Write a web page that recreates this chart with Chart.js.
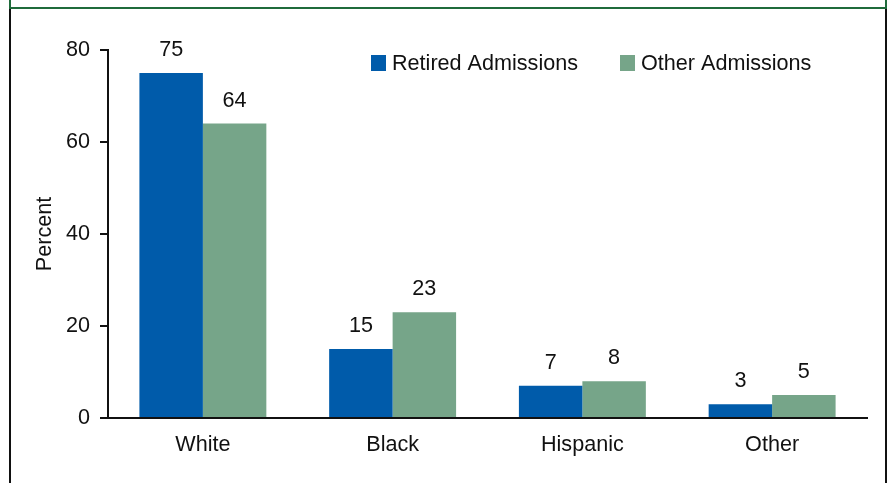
<!DOCTYPE html>
<html>
<head>
<meta charset="utf-8">
<script src="https://cdn.jsdelivr.net/npm/chart.js@4/dist/chart.umd.min.js"></script>
<style>
  html, body { margin: 0; padding: 0; background: #fff; }
  #wrap { position: relative; width: 888px; height: 483px; overflow: hidden; }
  #chart { position: absolute; left: 0; top: 0; }
  .frame-top { position: absolute; left: 9px; top: -4px; width: 874px; height: 11px;
    border: 2px solid #1f6b3b; border-top: none; }
  .frame-body { position: absolute; left: 9px; top: 9px; width: 874px; height: 490px;
    border-left: 2px solid #111; border-right: 2px solid #111; }
</style>
</head>
<body>
<div id="wrap">
  <canvas id="chart" width="888" height="483"></canvas>
  <div class="frame-top"></div>
  <div class="frame-body"></div>
</div>
<script>
const categories = ['White', 'Black', 'Hispanic', 'Other'];
const retired = [75, 15, 7, 3];
const other = [64, 23, 8, 5];
const seriesNames = ['Retired Admissions', 'Other Admissions'];
const yTicks = [0, 20, 40, 60, 80];

const BLUE = '#005baa';
const GREEN = '#76a589';
const FONT = '"Liberation Sans", Arial, Helvetica, sans-serif';
const SIZE = 21.6;

// value labels above each bar
const barLabels = {
    id: 'barLabels',
    afterDatasetsDraw(chart) {
        const ctx = chart.ctx;
        ctx.save();
        ctx.font = SIZE + 'px ' + FONT;
        ctx.fillStyle = '#111';
        ctx.textAlign = 'center';
        ctx.textBaseline = 'alphabetic';
        chart.data.datasets.forEach((ds, i) => {
            chart.getDatasetMeta(i).data.forEach((bar, j) => {
                ctx.fillText(String(ds.data[j]), bar.x, bar.y - 17);
            });
        });
        ctx.restore();
    }
};

// legend drawn in the top right of the plot
const boxLegend = {
    id: 'boxLegend',
    afterDraw(chart) {
        const ctx = chart.ctx;
        const spots = [371, 620];
        ctx.save();
        ctx.font = SIZE + 'px ' + FONT;
        ctx.textBaseline = 'alphabetic';
        chart.data.datasets.forEach((ds, i) => {
            ctx.fillStyle = ds.backgroundColor;
            ctx.fillRect(spots[i], 55, 15, 16);
            ctx.fillStyle = '#111';
            ctx.fillText(ds.label, spots[i] + 21, 70);
        });
        ctx.restore();
    }
};

new Chart(document.getElementById('chart'), {
    type: 'bar',
    data: {
        labels: categories,
        datasets: [{
            label: seriesNames[0],
            data: retired,
            backgroundColor: BLUE,
            borderWidth: 0
        }, {
            label: seriesNames[1],
            data: other,
            backgroundColor: GREEN,
            borderWidth: 0
        }]
    },
    options: {
        responsive: false,
        animation: false,
        events: [],
        layout: {
            padding: { left: 0, top: 50, right: 21, bottom: 0 }
        },
        datasets: {
            bar: {
                categoryPercentage: 0.669,
                barPercentage: 1
            }
        },
        plugins: {
            legend: { display: false },
            tooltip: { enabled: false }
        },
        scales: {
            x: {
                grid: { display: false },
                border: { display: true, color: '#111', width: 2 },
                ticks: {
                    color: '#111',
                    font: { family: FONT, size: SIZE },
                    padding: 6
                },
                afterFit(scale) { scale.height = 65; }
            },
            y: {
                min: 0,
                max: 80,
                afterBuildTicks(scale) {
                    scale.ticks = yTicks.map(v => ({ value: v }));
                },
                grid: {
                    drawOnChartArea: false,
                    drawTicks: true,
                    tickLength: 8,
                    color: '#111',
                    lineWidth: 2
                },
                border: { display: true, color: '#111', width: 2 },
                ticks: {
                    color: '#111',
                    font: { family: FONT, size: SIZE },
                    padding: 10
                },
                title: {
                    display: true,
                    text: 'Percent',
                    color: '#111',
                    font: { family: FONT, size: SIZE },
                    padding: { top: 32, bottom: 0 }
                },
                afterFit(scale) { scale.width = 108; }
            }
        }
    },
    plugins: [barLabels, boxLegend]
});
</script>
</body>
</html>
